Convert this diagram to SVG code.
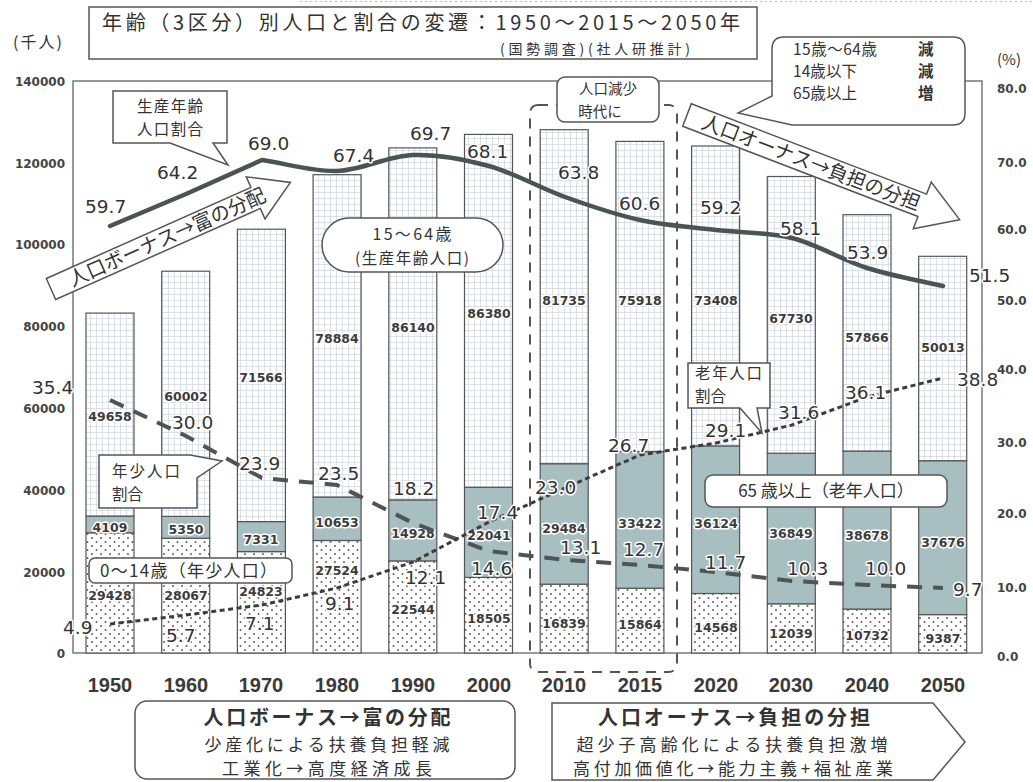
<svg xmlns="http://www.w3.org/2000/svg" width="1033" height="782" viewBox="0 0 1033 782">
<defs>
<pattern id="grid" width="6" height="6" patternUnits="userSpaceOnUse"><rect width="6" height="6" fill="#fff"/><path d="M0,0.5H6M0.5,0V6" stroke="#cdd3dc" stroke-width="0.7"/></pattern>
<pattern id="dots" width="9" height="8" patternUnits="userSpaceOnUse"><rect width="9" height="8" fill="#fff"/><circle cx="2" cy="2" r="0.95" fill="#555"/><circle cx="6.5" cy="6" r="0.95" fill="#555"/></pattern>
</defs>
<style>
.jp{font-family:"Noto Sans CJK JP","Noto Sans CJK SC",sans-serif;fill:#333}
.ax{font-family:"DejaVu Sans",sans-serif;font-weight:bold;font-size:12px;fill:#444}
.yr{font-family:"Liberation Sans",Arial,sans-serif;font-weight:bold;font-size:20px;fill:#3a3a3a;text-anchor:middle}
.bv{font-family:"DejaVu Sans",sans-serif;font-weight:bold;font-size:12.5px;fill:#3c3c3c;text-anchor:middle;stroke:#fff;stroke-width:3;paint-order:stroke;stroke-linejoin:round}
.lv{font-family:"DejaVu Sans",sans-serif;font-size:18.5px;fill:#333;stroke:#fff;stroke-width:3;paint-order:stroke;stroke-linejoin:round}
.bar{stroke:#555;stroke-width:1.2}
.old{fill:#a8bfc1}
.box{fill:#fff;stroke:#555;stroke-width:1.5}
</style>
<rect width="1033" height="782" fill="#fff"/>
<line x1="300" y1="1.5" x2="1033" y2="1.5" stroke="#bbb" stroke-width="1" stroke-dasharray="2 3"/>

<g id="title">
<rect x="89" y="7" width="668" height="52" class="box"/>
<text class="jp" x="102" y="30" font-size="20" textLength="638" lengthAdjust="spacing">年齢（3区分）別人口と割合の変遷：1950～2015～2050年</text>
<text class="jp" x="500" y="54" font-size="14" textLength="190" lengthAdjust="spacing">(国勢調査)(社人研推計)</text>
</g>

<g id="axes">
<rect x="73" y="81" width="909" height="572" fill="none" stroke="#555" stroke-width="1.2"/>
<text class="jp" x="13" y="48" font-size="16" letter-spacing="2">(千人)</text>
<text class="jp" x="997" y="65" font-size="15">(%)</text>
<g class="ax" text-anchor="end">
<text x="65" y="86">140000</text><text x="65" y="168">120000</text><text x="65" y="249">100000</text><text x="65" y="331">80000</text><text x="65" y="413">60000</text><text x="65" y="495">40000</text><text x="65" y="577">20000</text><text x="65" y="658">0</text>
</g>
<g class="ax">
<text x="997" y="93">80.0</text><text x="997" y="167">70.0</text><text x="997" y="234">60.0</text><text x="997" y="305">50.0</text><text x="997" y="374">40.0</text><text x="997" y="447">30.0</text><text x="997" y="518">20.0</text><text x="997" y="592">10.0</text><text x="997" y="661">0.0</text>
</g>
<g class="yr">
<text x="110" y="692">1950</text><text x="186" y="692">1960</text><text x="261" y="692">1970</text><text x="337" y="692">1980</text><text x="413" y="692">1990</text><text x="489" y="692">2000</text><text x="564" y="692">2010</text><text x="640" y="692">2015</text><text x="716" y="692">2020</text><text x="791" y="692">2030</text><text x="867" y="692">2040</text><text x="943" y="692">2050</text>
</g>
</g>

<g id="bars" class="bar">
<rect x="86" y="532.8" width="48" height="120.2" fill="url(#dots)"/><rect x="86" y="516" width="48" height="16.8" class="old"/><rect x="86" y="313.1" width="48" height="202.9" fill="url(#grid)"/>
<rect x="161.7" y="538.3" width="48" height="114.7" fill="url(#dots)"/><rect x="161.7" y="516.4" width="48" height="21.9" class="old"/><rect x="161.7" y="271.2" width="48" height="245.2" fill="url(#grid)"/>
<rect x="237.4" y="551.6" width="48" height="101.4" fill="url(#dots)"/><rect x="237.4" y="521.6" width="48" height="30" class="old"/><rect x="237.4" y="229.2" width="48" height="292.4" fill="url(#grid)"/>
<rect x="313.1" y="540.5" width="48" height="112.5" fill="url(#dots)"/><rect x="313.1" y="497" width="48" height="43.5" class="old"/><rect x="313.1" y="174.7" width="48" height="322.3" fill="url(#grid)"/>
<rect x="388.8" y="560.9" width="48" height="92.1" fill="url(#dots)"/><rect x="388.8" y="499.9" width="48" height="61" class="old"/><rect x="388.8" y="147.9" width="48" height="352" fill="url(#grid)"/>
<rect x="464.5" y="577.4" width="48" height="75.6" fill="url(#dots)"/><rect x="464.5" y="487.3" width="48" height="90.1" class="old"/><rect x="464.5" y="134.4" width="48" height="352.9" fill="url(#grid)"/>
<rect x="540.2" y="584.2" width="48" height="68.8" fill="url(#dots)"/><rect x="540.2" y="463.7" width="48" height="120.5" class="old"/><rect x="540.2" y="129.7" width="48" height="334" fill="url(#grid)"/>
<rect x="615.9" y="588.2" width="48" height="64.8" fill="url(#dots)"/><rect x="615.9" y="451.6" width="48" height="136.6" class="old"/><rect x="615.9" y="141.4" width="48" height="310.2" fill="url(#grid)"/>
<rect x="691.6" y="593.5" width="48" height="59.5" fill="url(#dots)"/><rect x="691.6" y="445.9" width="48" height="147.6" class="old"/><rect x="691.6" y="146" width="48" height="299.9" fill="url(#grid)"/>
<rect x="767.3" y="603.8" width="48" height="49.2" fill="url(#dots)"/><rect x="767.3" y="453.2" width="48" height="150.6" class="old"/><rect x="767.3" y="176.5" width="48" height="276.7" fill="url(#grid)"/>
<rect x="843" y="609.1" width="48" height="43.9" fill="url(#dots)"/><rect x="843" y="451.1" width="48" height="158" class="old"/><rect x="843" y="214.7" width="48" height="236.4" fill="url(#grid)"/>
<rect x="918.7" y="614.6" width="48" height="38.4" fill="url(#dots)"/><rect x="918.7" y="460.7" width="48" height="153.9" class="old"/><rect x="918.7" y="256.3" width="48" height="204.4" fill="url(#grid)"/>
</g>

<g id="bar-values" class="bv">
<text x="110" y="600">29428</text><text x="186" y="600">28067</text><text x="261" y="596">24823</text><text x="337" y="575">27524</text><text x="413" y="614">22544</text><text x="489" y="623">18505</text><text x="564" y="628">16839</text><text x="640" y="629">15864</text><text x="716" y="632">14568</text><text x="791" y="638">12039</text><text x="867" y="640">10732</text><text x="943" y="643">9387</text>
<text x="110" y="532">4109</text><text x="186" y="534">5350</text><text x="261" y="544">7331</text><text x="337" y="527">10653</text><text x="413" y="538">14928</text><text x="489" y="540">22041</text><text x="564" y="533">29484</text><text x="640" y="528">33422</text><text x="716" y="528">36124</text><text x="791" y="538">36849</text><text x="867" y="540">38678</text><text x="943" y="547">37676</text>
<text x="110" y="421">49658</text><text x="186" y="401">60002</text><text x="261" y="382">71566</text><text x="337" y="343">78884</text><text x="413" y="332">86140</text><text x="489" y="318">86380</text><text x="564" y="305">81735</text><text x="640" y="305">75918</text><text x="716" y="305">73408</text><text x="791" y="323">67730</text><text x="867" y="342">57866</text><text x="943" y="352">50013</text>
</g>

<g id="connectors" fill="none">
<rect id="decline-period" x="530" y="105" width="147" height="567" rx="8" stroke="#555" stroke-width="2" stroke-dasharray="10 8"/>
<path id="working-ratio" d="M110,226 L186,194 L262,160 C287,163.7 311.8,171.8 337,171 C362.2,170.2 387.7,155.8 413,155 C438.3,154.2 463.7,159 489,166 C514.3,173 539.8,188 565,197 C590.2,206 614.8,214.5 640,220 C665.2,225.5 690.7,227 716,230 C741.3,233 766.8,231.7 792,238 C817.2,244.3 841.8,260 867,268 C892.2,276 917.7,280 943,286" stroke="#4a5454" stroke-width="4.5" stroke-linejoin="round" stroke-linecap="round"/>
<polyline id="youth-ratio" points="110,400 186,436 262,478 337,485 413,523 489,551 565,560 640,565 716,572 792,581 867,585 943,588" stroke="#4d5555" stroke-width="4" stroke-dasharray="15 11" stroke-linejoin="round"/>
<polyline id="elderly-ratio" points="110,624 186,615 262,605 337,588 413,562 489,522 565,488 640,455 716,443 792,425 867,397 943,378" stroke="#3d3d3d" stroke-width="3" stroke-dasharray="5 3.5" stroke-linejoin="round"/>
</g>

<g id="line-values" class="lv">
<text x="85" y="213">59.7</text><text x="157" y="179">64.2</text><text x="248" y="150">69.0</text><text x="333" y="162">67.4</text><text x="410" y="140">69.7</text><text x="467" y="158">68.1</text><text x="558" y="179">63.8</text><text x="619" y="210">60.6</text><text x="700" y="214">59.2</text><text x="780" y="235">58.1</text><text x="847" y="259">53.9</text><text x="969" y="282">51.5</text>
<text x="32" y="394">35.4</text><text x="172" y="429">30.0</text><text x="239" y="470">23.9</text><text x="318" y="480">23.5</text><text x="393" y="495">18.2</text><text x="471" y="575">14.6</text><text x="560" y="554">13.1</text><text x="623" y="556">12.7</text><text x="705" y="569">11.7</text><text x="787" y="575">10.3</text><text x="865" y="575">10.0</text><text x="953" y="596">9.7</text>
<text x="63" y="634">4.9</text><text x="166" y="642">5.7</text><text x="245" y="630">7.1</text><text x="325" y="610">9.1</text><text x="405" y="584">12.1</text><text x="477" y="519">17.4</text><text x="535" y="494">23.0</text><text x="608" y="452">26.7</text><text x="705" y="437">29.1</text><text x="778" y="419">31.6</text><text x="845" y="399">36.1</text><text x="957" y="386">38.8</text>
</g>

<g id="arrow-bonus" transform="translate(51,289) rotate(-24)">
<path d="M0,-11.5 H224 V-23 L262,0 L224,23 V11.5 H0 Z" class="box"/>
<text class="jp" x="127" y="7" font-size="20" text-anchor="middle" textLength="213" lengthAdjust="spacingAndGlyphs">人口ボーナス→富の分配</text>
</g>

<g id="arrow-onus" transform="translate(687,115) rotate(21)">
<path d="M0,-12 H252 V-25 L292,0 L252,25 V12 H0 Z" class="box"/>
<text class="jp" x="133" y="7" font-size="20" text-anchor="middle" textLength="232" lengthAdjust="spacingAndGlyphs">人口オーナス→負担の分担</text>
</g>

<g id="callout-working-ratio">
<path d="M113,91 H227 V143 H213 L228,165 L170,143 H113 Z" class="box"/>
<text class="jp" x="170" y="112" font-size="15.5" text-anchor="middle" textLength="66" lengthAdjust="spacing">生産年齢</text>
<text class="jp" x="170" y="135" font-size="15.5" text-anchor="middle" textLength="66" lengthAdjust="spacing">人口割合</text>
</g>

<g id="label-working">
<rect x="322" y="218" width="181" height="54" rx="27" class="box"/>
<text class="jp" x="412" y="240" font-size="16" text-anchor="middle" textLength="79" lengthAdjust="spacing">15～64歳</text>
<text class="jp" x="412" y="264" font-size="15.5" text-anchor="middle" textLength="114" lengthAdjust="spacing">(生産年齢人口)</text>
</g>

<g id="label-decline">
<rect x="557" y="77" width="102" height="45" rx="8" class="box"/>
<text class="jp" x="608" y="94" font-size="14.5" text-anchor="middle">人口減少</text>
<text class="jp" x="600" y="117" font-size="14.5" text-anchor="middle">時代に</text>
</g>

<g id="callout-change">
<path d="M784,37 H953 Q965,37 965,49 V113 Q965,125 953,125 H792 L738,113 L772,96 V49 Q772,37 784,37 Z" class="box"/>
<g class="jp" font-size="15.5">
<text x="793" y="55" textLength="84" lengthAdjust="spacing">15歳～64歳</text><text x="918" y="55" font-weight="bold">減</text>
<text x="793" y="77" textLength="64" lengthAdjust="spacing">14歳以下</text><text x="918" y="77" font-weight="bold">減</text>
<text x="793" y="99" textLength="64" lengthAdjust="spacing">65歳以上</text><text x="918" y="99" font-weight="bold">増</text>
</g>
</g>

<g id="callout-youth-ratio">
<path d="M99,455 H190 L222,461 L197,478 V508 H99 Z" class="box"/>
<text class="jp" x="112" y="477" font-size="15.5" textLength="68" lengthAdjust="spacing">年少人口</text>
<text class="jp" x="112" y="500" font-size="15.5">割合</text>
</g>

<g id="label-youth">
<rect x="89" y="558" width="203" height="25" rx="6" class="box"/>
<text class="jp" x="100" y="577" font-size="17" textLength="177" lengthAdjust="spacing">0～14歳（年少人口）</text>
</g>

<g id="callout-elderly-ratio">
<path d="M688,363 H770 V408 H757 L762,433 L740,408 H688 Z" class="box"/>
<text class="jp" x="695" y="379" font-size="15.5" textLength="67" lengthAdjust="spacing">老年人口</text>
<text class="jp" x="695" y="402" font-size="15.5">割合</text>
</g>

<g id="label-elderly">
<rect x="705" y="475" width="242" height="32" rx="8" class="box"/>
<text class="jp" x="826" y="497" font-size="17" text-anchor="middle">65 歳以上（老年人口）</text>
</g>

<g id="box-bonus">
<rect x="135" y="701" width="380" height="78" rx="12" class="box"/>
<text class="jp" x="327" y="725" font-size="20" font-weight="bold" text-anchor="middle" textLength="247" lengthAdjust="spacing">人口ボーナス→富の分配</text>
<text class="jp" x="327" y="751" font-size="17" text-anchor="middle" textLength="245" lengthAdjust="spacing">少産化による扶養負担軽減</text>
<text class="jp" x="327" y="775" font-size="17" text-anchor="middle" textLength="210" lengthAdjust="spacing">工業化→高度経済成長</text>
</g>

<g id="box-onus">
<path d="M552,703 H933 L965,742 L933,780 H552 Z" class="box"/>
<text class="jp" x="734" y="725" font-size="20" font-weight="bold" text-anchor="middle" textLength="272" lengthAdjust="spacing">人口オーナス→負担の分担</text>
<text class="jp" x="732" y="751" font-size="17" text-anchor="middle" textLength="311" lengthAdjust="spacing">超少子高齢化による扶養負担激増</text>
<text class="jp" x="733" y="775" font-size="17" text-anchor="middle" textLength="320" lengthAdjust="spacing">高付加価値化→能力主義+福祉産業</text>
</g>
</svg>
